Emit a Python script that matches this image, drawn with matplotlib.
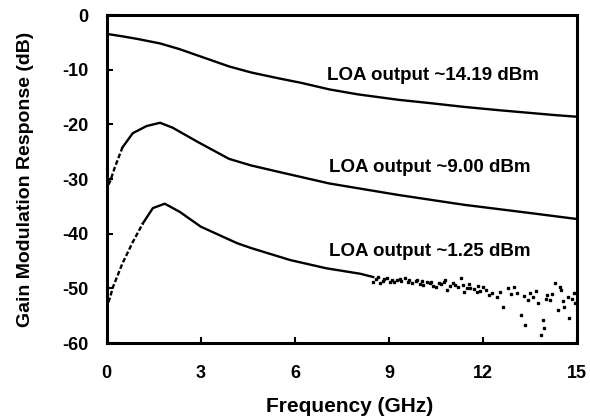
import matplotlib
matplotlib.use("Agg")
import matplotlib.pyplot as plt
import numpy as np

plt.rcParams['font.family'] = ['Liberation Sans', 'DejaVu Sans']
plt.rcParams['font.weight'] = 'bold'

# Curve 1: LOA output ~14.19 dBm
f1 = [0.05, 0.5, 1.0, 1.7, 2.3, 3.0, 3.9, 4.6, 5.5, 6.2, 7.1, 8.0, 9.3, 10.3, 11.4, 12.5, 13.5, 14.3, 15.0]
g1 = [-3.5, -3.9, -4.4, -5.2, -6.2, -7.6, -9.4, -10.5, -11.6, -12.4, -13.6, -14.5, -15.5, -16.1, -16.8, -17.4, -17.9, -18.3, -18.6]

# Curve 2: LOA output ~9.00 dBm
f2 = [0.05, 0.1, 0.26, 0.5, 0.83, 1.27, 1.7, 2.1, 2.9, 3.9, 4.6, 5.5, 7.1, 9.3, 11.4, 13.5, 15.0]
g2 = [-31.0, -30.5, -27.8, -24.2, -21.6, -20.3, -19.7, -20.6, -23.2, -26.3, -27.5, -28.7, -30.8, -32.9, -34.7, -36.2, -37.3]

# Curve 3: LOA output ~1.25 dBm (continuous part)
f3 = [0.05, 0.1, 0.2, 0.5, 0.83, 1.15, 1.47, 1.85, 2.33, 3.0, 4.15, 4.6, 5.85, 7.0, 8.08, 8.5]
g3 = [-52.5, -51.7, -49.7, -45.4, -41.5, -38.1, -35.3, -34.5, -36.0, -38.7, -41.7, -42.6, -44.8, -46.3, -47.3, -47.9]

# Curve 3 noisy high-frequency points
f3s = [8.5, 8.72, 8.94, 9.04, 9.27, 9.52, 9.74, 9.9, 10.1, 10.3, 10.5, 10.8, 10.85, 11.05, 11.3, 11.4,
       11.6, 11.8, 12.0, 12.2, 12.45, 12.65, 12.8, 13.0, 13.1, 13.2, 13.35, 13.45, 13.6, 13.75, 13.9,
       13.85, 13.95, 14.05, 14.15, 14.3, 14.4, 14.5, 14.6, 14.7, 14.75, 14.9, 14.95,
       8.6, 8.8, 9.15, 9.4, 9.6, 10.0, 10.2, 10.4, 10.65, 10.95, 11.2, 11.5, 11.7, 11.9, 12.1, 12.3,
       12.55, 12.9, 13.3, 13.5, 14.0, 14.2, 14.55, 14.85, 13.7, 14.45,
       8.65, 8.85, 9.1, 9.35, 9.65, 9.85, 10.05, 10.35, 10.6, 10.75, 11.1, 11.35, 11.55, 11.85]
g3s = [-48.8, -49.0, -48.1, -48.8, -48.4, -48.1, -49.0, -48.4, -49.4, -49.0, -49.7, -48.4, -50.3, -49.0, -48.1, -50.6,
       -49.9, -50.6, -49.7, -51.2, -51.5, -53.4, -49.9, -49.7, -50.8, -54.8, -56.7, -52.1, -51.5, -52.7, -55.8,
       -58.5, -57.2, -51.2, -52.1, -49.0, -53.9, -50.3, -53.4, -51.5, -55.4, -50.8, -52.7,
       -48.3, -48.6, -48.9, -48.6, -48.8, -49.2, -48.9, -49.5, -49.1, -49.6, -49.8, -49.9, -50.1, -50.4, -50.2, -50.9,
       -50.6, -51.0, -51.3, -50.9, -52.0, -51.0, -52.2, -51.9, -50.5, -49.8,
       -47.9, -48.3, -48.5, -48.2, -48.5, -48.7, -48.6, -48.8, -49.0, -48.9, -49.3, -49.4, -49.2, -49.6]

labels = ['LOA output ~14.19 dBm', 'LOA output ~9.00 dBm', 'LOA output ~1.25 dBm']
xticks = [0, 3, 6, 9, 12, 15]
yticks = [0, -10, -20, -30, -40, -50, -60]

fig = plt.figure(figsize=(5.9, 4.17), dpi=100)
ax = fig.add_axes([0.181, 0.177, 0.797, 0.787])

lw = 1.7
ax.plot(f1, g1, color='black', lw=lw)
ax.plot(f2[:4], g2[:4], color='black', lw=lw, ls=(0, (2, 1)))
ax.plot(f2[3:], g2[3:], color='black', lw=lw)
ax.plot(f3[:6], g3[:6], color='black', lw=lw, ls=(0, (2, 1)))
ax.plot(f3[5:], g3[5:], color='black', lw=lw)
ax.plot(f3s, g3s, ls='none', marker='s', ms=2.0, color='black')

ax.text(10.4, -11.0, labels[0], ha='center', va='center', fontsize=13.5, fontweight='bold')
ax.text(10.3, -27.8, labels[1], ha='center', va='center', fontsize=13.5, fontweight='bold')
ax.text(10.3, -43.3, labels[2], ha='center', va='center', fontsize=13.5, fontweight='bold')

ax.set_xlim(0, 15)
ax.set_ylim(-60, 0)
ax.set_xticks(xticks)
ax.set_yticks(yticks)
ax.set_xticklabels([str(t) for t in xticks], fontsize=13, fontweight='bold')
ax.set_yticklabels([str(t) for t in yticks], fontsize=13, fontweight='bold')
ax.tick_params(direction='in', length=4, width=1.5)
ax.tick_params(axis='y', pad=13)
ax.tick_params(axis='x', pad=16)
for s in ax.spines.values():
    s.set_linewidth(2.2)
ax.set_xlabel('Frequency (GHz)', fontsize=15, fontweight='bold')
ax.set_ylabel('Gain Modulation Response (dB)', fontsize=14, fontweight='bold')
ax.xaxis.set_label_coords(0.517, -0.165)
ax.yaxis.set_label_coords(-0.155, 0.5)

fig.savefig('out.png', dpi=100)
